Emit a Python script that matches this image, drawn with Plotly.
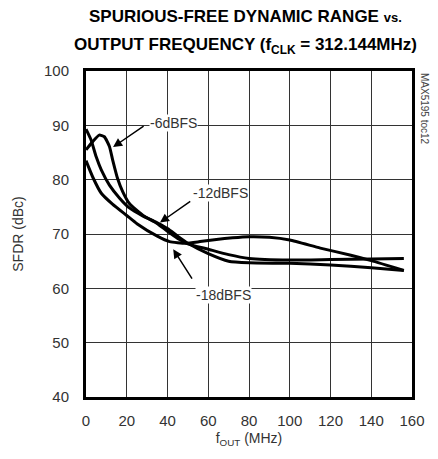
import plotly.graph_objects as go

# ================================
# Dados
# ================================
f_6dbfs = [0, 3.3, 6.5, 9, 11.5, 13.1, 15.5, 18, 21.3, 28, 34.7, 40, 45, 50, 60, 70, 80, 100, 120, 140, 156]
sfdr_6dbfs = [85.5, 87.0, 88.2, 87.9, 86.1, 83.6, 80.2, 77.8, 75.6, 73.4, 72.0, 70.5, 69.2, 68.2, 67.2, 66.2, 65.5, 65.2, 65.3, 65.4, 65.5]

f_12dbfs = [0, 2.5, 5, 7.5, 11.5, 16.5, 21.3, 28, 34.7, 40, 45, 50, 60, 70, 80, 100, 120, 140, 156]
sfdr_12dbfs = [89.3, 87.3, 84.2, 81.8, 79.0, 76.6, 74.8, 73.3, 72.1, 71.0, 69.6, 68.3, 66.4, 65.0, 64.7, 64.6, 64.3, 63.8, 63.3]

f_18dbfs = [0, 3.4, 7.5, 13, 20, 25, 35, 41, 49, 56, 64, 72, 80, 90, 100, 115, 130, 140, 156]
sfdr_18dbfs = [83.5, 80.4, 77.5, 75.5, 73.4, 71.9, 69.6, 68.6, 68.3, 68.6, 69.0, 69.3, 69.5, 69.4, 68.9, 67.4, 66.1, 65.1, 63.3]

x_ticks = [0, 20, 40, 60, 80, 100, 120, 140, 160]
y_ticks = [40, 50, 60, 70, 80, 90, 100]

FONTE = "Liberation Sans, Arial"
CINZA = '#333'

# ================================
# Figura
# ================================
fig = go.Figure()
for fx, sy in [(f_6dbfs, sfdr_6dbfs), (f_12dbfs, sfdr_12dbfs), (f_18dbfs, sfdr_18dbfs)]:
    fig.add_trace(go.Scatter(x=fx, y=sy, mode='lines',
                             line=dict(color='black', width=3, shape='spline', smoothing=0.5),
                             showlegend=False, hoverinfo='skip'))

eixo = dict(showline=True, linecolor='black', linewidth=3, mirror=True,
            showgrid=True, gridcolor='#333', gridwidth=1, zeroline=False, automargin=False,
            ticks='', tickfont=dict(family=FONTE, size=15, color=CINZA))

fig.update_xaxes(range=[0, 160], tickvals=x_ticks, **eixo, ticklabelstandoff=8,
                 title=dict(text='f<sub>OUT</sub> (MHz)', font=dict(family=FONTE, size=14, color=CINZA), standoff=6))
fig.update_yaxes(range=[40, 100], tickvals=y_ticks, **eixo, ticklabelstandoff=11,
                 title=dict(text='SFDR (dBc)', font=dict(family=FONTE, size=14, color=CINZA), standoff=18))

# a página tem 8px de margem no corpo: figura um pouco menor
fig.update_layout(
    width=430, height=451,
    margin=dict(l=78, r=26, t=63, b=62),
    plot_bgcolor='white', paper_bgcolor='white',
)

# título em duas linhas
topo = 1 + 63 / 326
fig.add_annotation(xref='paper', yref='paper', x=0.49, y=topo, xanchor='center', yanchor='top', yshift=3,
                   text='<b>SPURIOUS-FREE DYNAMIC RANGE <span style="font-size:13px">vs.</span></b>',
                   showarrow=False, font=dict(family=FONTE, size=17, color='black'))
fig.add_annotation(xref='paper', yref='paper', x=0.49, y=topo, xanchor='center', yanchor='top', yshift=-25,
                   text='<b>OUTPUT FREQUENCY (f<sub>CLK</sub> = 312.144MHz)</b>',
                   showarrow=False, font=dict(family=FONTE, size=17, color='black'))

# rótulos das curvas
rotulos = [
    ('-6dBFS', 42.7, 90.4, 13.3, 86.0, 29, 90.05),
    ('-12dBFS', 65.8, 77.5, 36.3, 72.1, 51.9, 76.2),
    ('-18dBFS', 67.7, 58.7, 42.8, 67.2, 52.5, 61.5),
]
for txt, tx, ty, px_, py_, ax_, ay_ in rotulos:
    fig.add_annotation(x=px_, y=py_, ax=ax_, ay=ay_, axref='x', ayref='y', text='',
                       showarrow=True, arrowhead=2, arrowsize=1.2, arrowwidth=1.5, arrowcolor='black')
    fig.add_annotation(x=tx, y=ty, text=txt, showarrow=False, bgcolor='white', borderpad=0,
                       font=dict(family=FONTE, size=14, color=CINZA))

# marca d'água vertical à direita
fig.add_annotation(xref='paper', yref='paper', x=1.04, y=1.0, xanchor='center', yanchor='top',
                   text='MAX5195 toc12', textangle=90, showarrow=False,
                   font=dict(family=FONTE, size=10, color='#444'))

fig.write_html("out.html")
